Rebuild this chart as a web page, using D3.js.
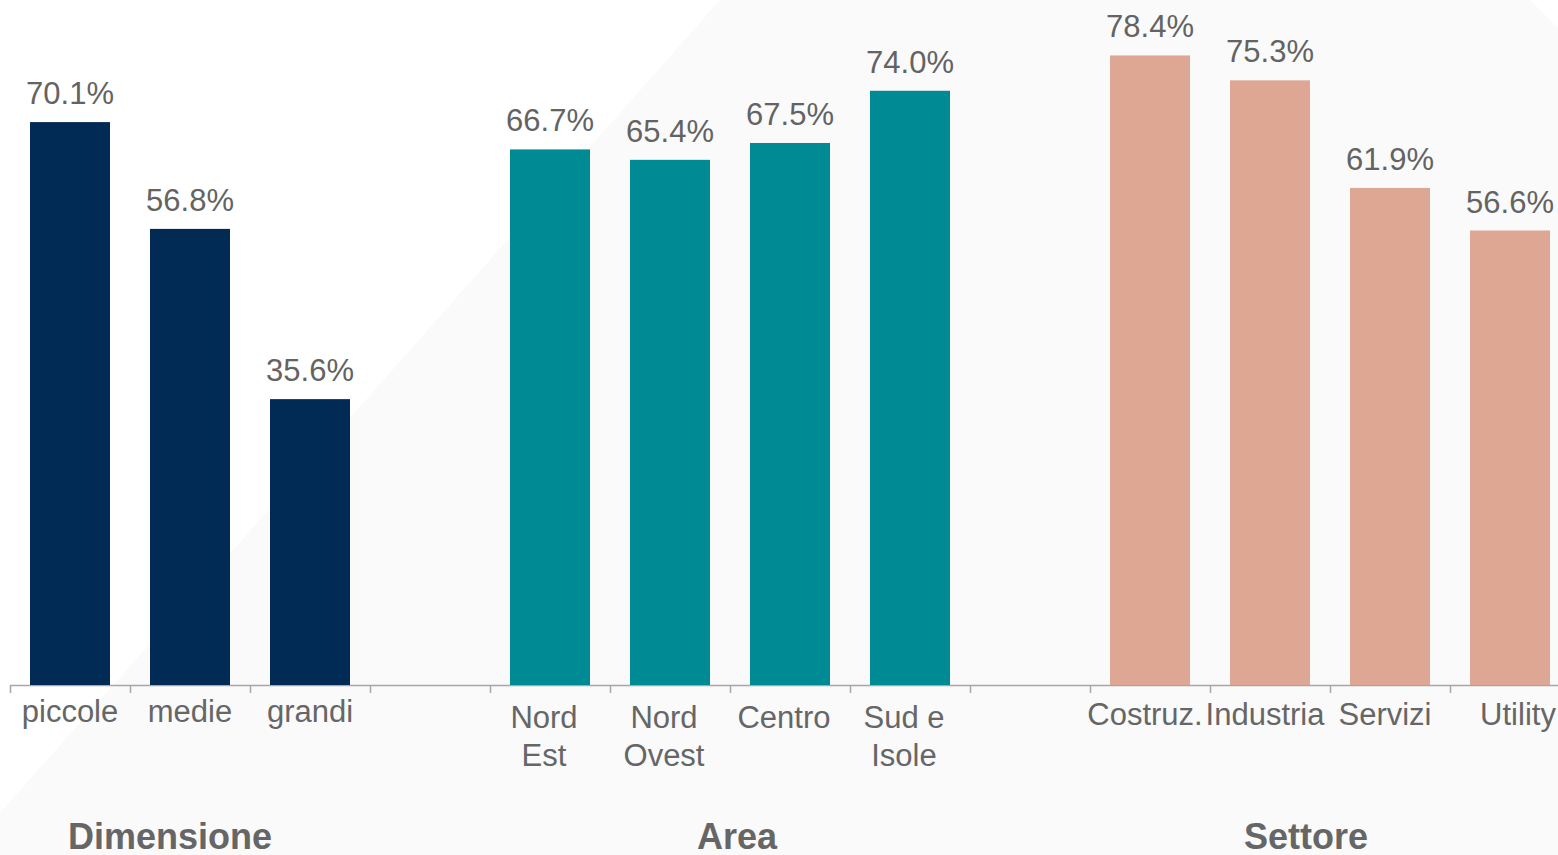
<!DOCTYPE html>
<html>
<head>
<meta charset="utf-8">
<script src="https://cdn.jsdelivr.net/npm/d3@7"></script>
<style>
  body { margin: 0; background: #fff; }
  svg { display: block; font-family: Arial, "Liberation Sans", sans-serif; }
</style>
</head>
<body>
<div id="chart"></div>
<script>
var svgWidth = 1558;
var svgHeight = 855;

// data
var groups = ["Dimensione", "Area", "Settore"];
var dimensioneCats = ["piccole", "medie", "grandi"];
var dimensioneVals = [70.1, 56.8, 35.6];
var areaCats = ["Nord|Est", "Nord|Ovest", "Centro", "Sud e|Isole"];
var areaVals = [66.7, 65.4, 67.5, 74.0];
var settoreCats = ["Costruz.", "Industria", "Servizi", "Utility"];
var settoreVals = [78.4, 75.3, 61.9, 56.6];
var groupColors = ["#012a54", "#008a94", "#dea794"];
var groupTitleShift = [-20, 7, -24];

var baseY = 685;

var svg = d3.select("#chart")
  .append("svg")
  .attr("width", svgWidth)
  .attr("height", svgHeight);

// faint diagonal background shape
svg.append("polygon")
  .attr("points", "0,813 720,0 1530,0 1558,28 1558,855 0,855")
  .attr("fill", "#fafafa");

// build slot list: each group followed by one empty slot
var catLists = [dimensioneCats, areaCats, settoreCats];
var valLists = [dimensioneVals, areaVals, settoreVals];
var bars = [];
var slot = 0;
var groupSpans = [];
catLists.forEach(function(cats, g) {
  var start = slot;
  cats.forEach(function(c, i) {
    bars.push({ cat: c, value: valLists[g][i], group: g, slot: slot });
    slot++;
  });
  groupSpans.push([start, slot]);
  slot++;
});
var nSlots = slot - 1; // 13

var xSlot = d3.scaleLinear()
  .domain([0, nSlots])
  .range([10, 1570]);

var xBand = d3.scaleBand()
  .domain(d3.range(nSlots))
  .range([10, 1570])
  .paddingInner(1 / 3)
  .paddingOuter(1 / 6);

var y = d3.scaleLinear()
  .domain([0, 100])
  .range([baseY, baseY - 803]);

// axis with ticks at slot boundaries
var axis = svg.append("g")
  .attr("transform", `translate(0, ${baseY})`)
  .call(d3.axisBottom(xSlot)
    .tickValues(d3.range(nSlots + 1))
    .tickFormat("")
    .tickSize(8)
    .tickSizeOuter(0));
axis.select(".domain").attr("stroke", "#a6a6a6").attr("stroke-width", 1.5);
axis.selectAll(".tick line").attr("stroke", "#a6a6a6").attr("stroke-width", 1.5);

// bars
svg.selectAll("rect.bar")
  .data(bars)
  .enter()
  .append("rect")
  .attr("class", "bar")
  .attr("x", d => xBand(d.slot))
  .attr("width", xBand.bandwidth())
  .attr("y", d => y(d.value))
  .attr("height", d => y(0) - y(d.value))
  .attr("fill", d => groupColors[d.group]);

// value labels
svg.selectAll("text.val")
  .data(bars)
  .enter()
  .append("text")
  .attr("class", "val")
  .attr("x", d => xBand(d.slot) + xBand.bandwidth() / 2)
  .attr("y", d => y(d.value) - 18)
  .attr("text-anchor", "middle")
  .attr("font-size", 31)
  .attr("fill", "#636363")
  .text(d => d.value.toFixed(1) + "%");

// category labels
var labelBase = [722, 728, 725];
var labelShift = [0, -6, -5];
var catText = svg.selectAll("text.cat")
  .data(bars)
  .enter()
  .append("text")
  .attr("class", "cat")
  .attr("text-anchor", "middle")
  .attr("font-size", 31)
  .attr("fill", "#666666")
  .attr("y", d => labelBase[d.group]);

catText.each(function(d) {
  var lines = d.cat.split("|");
  var cx = xBand(d.slot) + xBand.bandwidth() / 2 + labelShift[d.group];
  if (d.cat === "Utility") cx += 13;
  d3.select(this).selectAll("tspan")
    .data(lines)
    .enter()
    .append("tspan")
    .attr("x", cx)
    .attr("dy", (l, i) => i === 0 ? 0 : 38)
    .text(l => l);
});

// group titles
svg.selectAll("text.group")
  .data(groups)
  .enter()
  .append("text")
  .attr("class", "group")
  .attr("x", (g, i) => (xSlot(groupSpans[i][0]) + xSlot(groupSpans[i][1])) / 2 + groupTitleShift[i])
  .attr("y", 849)
  .attr("text-anchor", "middle")
  .attr("font-size", 36)
  .attr("font-weight", "bold")
  .attr("fill", "#666666")
  .text(g => g);
</script>
</body>
</html>
